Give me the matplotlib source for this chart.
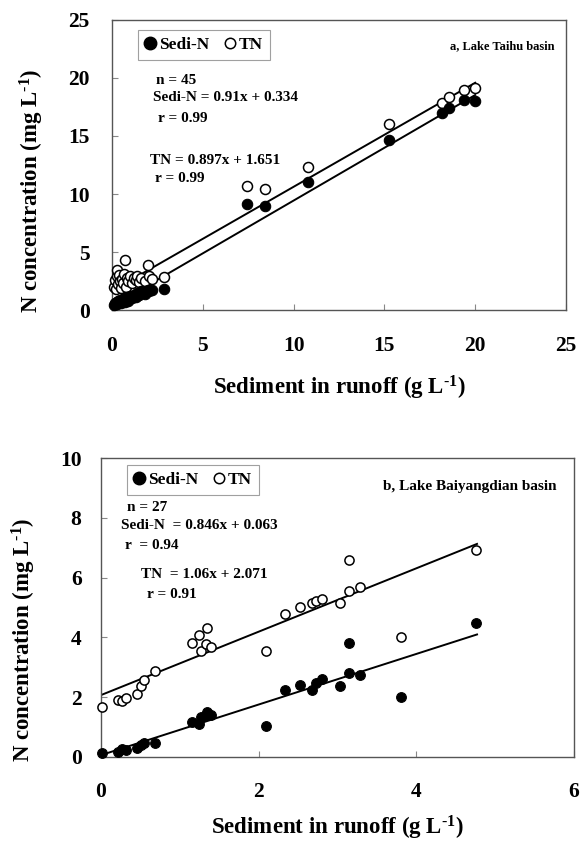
import matplotlib
matplotlib.use("Agg")
import matplotlib.pyplot as plt
import numpy as np
from matplotlib.lines import Line2D

plt.rcParams['font.family'] = ['Liberation Serif', 'DejaVu Serif']
plt.rcParams['font.weight'] = 'bold'
plt.rcParams['mathtext.fontset'] = 'custom'
plt.rcParams['mathtext.rm'] = 'Liberation Serif:bold'
plt.rcParams['mathtext.default'] = 'rm'

# ---------------- Data: (a) Lake Taihu basin ----------------
taihu_x = [0.10, 0.15, 0.20, 0.25, 0.30, 0.35, 0.40, 0.45, 0.50, 0.55, 0.60, 0.65,
           0.70, 0.75, 0.80, 0.90, 1.00, 1.10, 1.20, 1.30, 1.40, 1.50, 1.60, 1.80,
           2.00, 2.05, 2.20, 2.85, 7.44, 8.41, 10.79, 15.24, 18.17, 18.53, 19.36, 19.98]
taihu_sedn = [0.45, 0.60, 0.50, 0.70, 0.55, 0.80, 0.65, 0.90, 0.60, 0.85, 0.75, 1.00,
              0.70, 1.10, 0.90, 0.80, 1.20, 1.00, 1.30, 1.10, 1.50, 1.30, 1.60, 1.40,
              1.75, 1.60, 1.70, 1.80, 9.14, 8.99, 11.06, 14.66, 16.95, 17.40, 18.10, 18.00]
taihu_tn = [2.00, 2.60, 1.80, 2.90, 3.45, 2.20, 3.00, 2.50, 1.90, 2.70, 2.30, 3.10,
            4.30, 2.00, 2.80, 2.50, 2.90, 2.30, 2.80, 2.60, 2.90, 2.40, 2.80, 2.50,
            3.85, 2.90, 2.70, 2.87, 10.72, 10.43, 12.36, 16.03, 17.88, 18.40, 18.97, 19.10]
taihu_fit_slope = [0.91, 0.897]      # Sedi-N, TN
taihu_fit_icpt = [0.334, 1.651]
taihu_fit_x = [0.1, 20.0]

# ---------------- Data: (b) Lake Baiyangdian basin ----------------
bai_x = [0.01, 0.22, 0.27, 0.32, 0.46, 0.51, 0.55, 0.69, 1.16, 1.24, 1.27, 1.33, 1.35,
         1.40, 2.09, 2.34, 2.53, 2.68, 2.73, 2.80, 3.03, 3.14, 3.15, 3.28, 3.81, 4.76]
bai_sedn = [0.12, 0.18, 0.26, 0.23, 0.29, 0.40, 0.48, 0.48, 1.18, 1.10, 1.35, 1.42, 1.50,
            1.39, 1.05, 2.24, 2.41, 2.24, 2.48, 2.60, 2.37, 2.80, 3.82, 2.73, 2.01, 4.49]
bai_tn = [1.68, 1.91, 1.88, 1.98, 2.10, 2.37, 2.58, 2.87, 3.80, 4.08, 3.56, 3.78, 4.32,
          3.69, 3.53, 4.78, 5.03, 5.16, 5.23, 5.27, 5.14, 5.56, 6.59, 5.70, 4.02, 6.92]
bai_fit_slope = [0.846, 1.06]
bai_fit_icpt = [0.063, 2.071]
bai_fit_x = [0.01, 4.77]

W, H = 581, 841
fig = plt.figure(figsize=(W / 100, H / 100), dpi=100)

frame_col = '#555555'
unit = r'L$^{\text{-}1}$'


def style_axes(ax, xlim, ylim, xticks, yticks, xpad, ypad):
    ax.set_xlim(*xlim)
    ax.set_ylim(*ylim)
    ax.set_xticks(xticks)
    ax.set_yticks(yticks)
    ax.tick_params(direction='in', length=4, width=0.8, color='#888888',
                   labelsize=15.5, top=False, right=False)
    ax.tick_params(axis='x', pad=xpad)
    ax.tick_params(axis='y', pad=ypad)
    for s in ax.spines.values():
        s.set_color(frame_col)
        s.set_linewidth(1.0)
    for lab in ax.get_xticklabels() + ax.get_yticklabels():
        lab.set_fontweight('bold')


def draw_panel(ax, x, sedn, tn, slopes, icpts, fitx, ms_f, ms_o):
    xs = np.array(fitx)
    for s, b in zip(slopes, icpts):
        ax.plot(xs, s * xs + b, color='black', lw=1.4, zorder=2)
    ax.plot(x, tn, 'o', ms=ms_o, mfc='white', mec='black', mew=1.1, zorder=3,
            clip_on=False)
    ax.plot(x, sedn, 'o', ms=ms_f, mfc='black', mec='black', mew=0.8, zorder=4,
            clip_on=False)


def add_legend(ax, anchor, ms):
    handles = [Line2D([], [], marker='o', ls='none', ms=ms, mfc='black', mec='black'),
               Line2D([], [], marker='o', ls='none', ms=ms - 1.5, mfc='white', mec='black', mew=1.1)]
    leg = ax.legend(handles, ['Sedi-N', 'TN'], loc='upper left', bbox_to_anchor=anchor,
                    ncol=2, frameon=True, fancybox=False, edgecolor='#888888',
                    borderaxespad=0, handlelength=0.6, handletextpad=0.2,
                    columnspacing=0.9, borderpad=0.4,
                    prop={'size': 12.5, 'weight': 'bold'})
    leg.get_frame().set_linewidth(0.8)


# ---------- Panel (a) ----------
ax1 = fig.add_axes([112 / W, 1 - 310 / H, 454 / W, 290 / H])
draw_panel(ax1, taihu_x, taihu_sedn, taihu_tn, taihu_fit_slope, taihu_fit_icpt,
           taihu_fit_x, 7.5, 7.2)
style_axes(ax1, (0, 25), (0, 25), [0, 5, 10, 15, 20, 25], [0, 5, 10, 15, 20, 25], 19, 16)
add_legend(ax1, (0.057, 0.966), 9)
ta = dict(transform=ax1.transAxes, fontsize=11, fontweight='bold', va='center', ha='left')
ax1.text(0.098, 0.790, 'n = 45', **ta)
ax1.text(0.091, 0.733, 'Sedi-N = 0.91x + 0.334', **ta)
ax1.text(0.102, 0.662, 'r = 0.99', **ta)
ax1.text(0.084, 0.517, 'TN = 0.897x + 1.651', **ta)
ax1.text(0.095, 0.455, 'r = 0.99', **ta)
ax1.text(0.7445, 0.910, 'a, Lake Taihu basin', transform=ax1.transAxes, fontsize=9,
         fontweight='bold', va='center', ha='left')

fig.text(32 / W, 1 - 191 / H, 'N concentration (mg ' + unit + ')', rotation=90,
         ha='center', va='center', fontsize=16.5, fontweight='bold')
fig.text(339 / W, 1 - 388 / H, 'Sediment in runoff (g ' + unit + ')',
         ha='center', va='center', fontsize=16.5, fontweight='bold')

# ---------- Panel (b) ----------
ax2 = fig.add_axes([101 / W, 1 - 757 / H, 473 / W, 299 / H])
draw_panel(ax2, bai_x, bai_sedn, bai_tn, bai_fit_slope, bai_fit_icpt, bai_fit_x, 7.0, 6.6)
style_axes(ax2, (0, 6), (0, 10), [0, 2, 4, 6], [0, 2, 4, 6, 8, 10], 18, 14)
add_legend(ax2, (0.055, 0.977), 9)
tb = dict(transform=ax2.transAxes, fontsize=11, fontweight='bold', va='center', ha='left')
ax2.text(0.055, 0.836, 'n = 27', **tb)
ax2.text(0.0416, 0.773, 'Sedi-N  = 0.846x + 0.063', **tb)
ax2.text(0.0507, 0.706, 'r  = 0.94', **tb)
ax2.text(0.085, 0.609, 'TN  = 1.06x + 2.071', **tb)
ax2.text(0.0966, 0.545, 'r = 0.91', **tb)
ax2.text(0.5956, 0.906, 'b, Lake Baiyangdian basin', **tb)

fig.text(24 / W, 1 - 640 / H, 'N concentration (mg ' + unit + ')', rotation=90,
         ha='center', va='center', fontsize=16.5, fontweight='bold')
fig.text(337 / W, 1 - 828 / H, 'Sediment in runoff (g ' + unit + ')',
         ha='center', va='center', fontsize=16.5, fontweight='bold')

fig.savefig('out.png', dpi=100)
